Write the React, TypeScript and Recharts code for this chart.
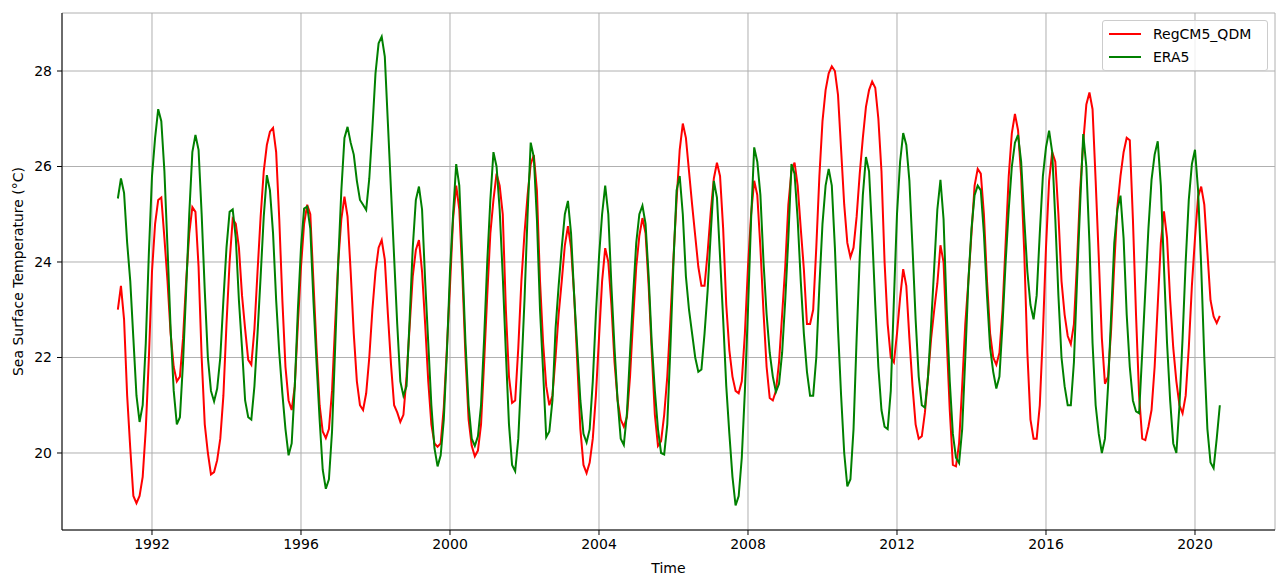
import { LineChart, Line, XAxis, YAxis, CartesianGrid, Legend } from 'recharts';

const FONT = '"DejaVu Sans", sans-serif';

const startYear = 1991;
const xTicks = [1992, 1996, 2000, 2004, 2008, 2012, 2016, 2020];
const yTicks = [20, 22, 24, 26, 28];
const seriesNames = ['RegCM5_QDM', 'ERA5'];

// monthly SST, Jan 1991 .. Aug 2020
const regcm5Qdm = [
  23.0, 23.5, 22.8, 21.2, 20.1, 19.1, 18.95, 19.1, 19.5, 20.5, 22.0, 23.8, // 1991
  24.8, 25.3, 25.35, 24.5, 23.6, 22.5, 21.8, 21.5, 21.6, 22.4, 23.6, 24.6, // 1992
  25.15, 25.05, 23.9, 22.0, 20.6, 20.0, 19.55, 19.6, 19.85, 20.3, 21.2, 22.7, // 1993
  24.0, 24.9, 24.8, 24.3, 23.3, 22.6, 21.95, 21.85, 22.6, 23.8, 24.95, 25.9, // 1994
  26.45, 26.73, 26.81, 26.3, 24.9, 23.2, 21.8, 21.1, 20.9, 21.4, 22.7, 23.9, // 1995
  24.8, 25.2, 25.0, 23.6, 22.2, 21.0, 20.45, 20.31, 20.5, 21.3, 22.7, 24.0, // 1996
  24.9, 25.37, 24.95, 23.8, 22.5, 21.5, 21.0, 20.9, 21.25, 22.0, 23.0, 23.8, // 1997
  24.3, 24.46, 24.05, 22.9, 21.85, 21.0, 20.85, 20.65, 20.8, 21.6, 22.65, 23.7, // 1998
  24.25, 24.46, 23.8, 22.7, 21.5, 20.6, 20.2, 20.13, 20.2, 20.95, 22.2, 23.5, // 1999
  24.9, 25.6, 25.1, 23.7, 22.0, 20.7, 20.15, 19.93, 20.05, 20.6, 21.9, 23.3, // 2000
  24.6, 25.3, 25.85, 25.6, 25.0, 23.0, 21.6, 21.05, 21.1, 22.2, 23.6, 24.6, // 2001
  25.4, 26.05, 26.24, 25.5, 23.6, 22.3, 21.4, 21.0, 21.2, 22.0, 22.9, 23.6, // 2002
  24.35, 24.75, 24.3, 23.3, 21.9, 20.5, 19.75, 19.58, 19.8, 20.3, 21.2, 22.4, // 2003
  23.6, 24.29, 24.0, 23.1, 21.9, 21.1, 20.7, 20.55, 20.75, 21.6, 22.8, 23.9, // 2004
  24.55, 24.92, 24.6, 23.5, 22.1, 20.8, 20.15, 20.25, 20.8, 21.6, 22.8, 24.1, // 2005
  25.3, 26.35, 26.9, 26.6, 25.9, 25.2, 24.55, 23.9, 23.5, 23.5, 24.2, 25.05, // 2006
  25.75, 26.08, 25.8, 24.7, 23.1, 22.15, 21.6, 21.3, 21.25, 21.5, 22.5, 23.9, // 2007
  25.0, 25.7, 25.4, 24.3, 22.95, 21.8, 21.15, 21.1, 21.3, 21.9, 22.9, 23.9, // 2008
  25.2, 25.9, 26.08, 25.6, 24.7, 23.85, 22.7, 22.7, 23.0, 24.3, 25.8, 26.95, // 2009
  27.6, 27.95, 28.1, 28.0, 27.5, 26.35, 25.2, 24.4, 24.1, 24.3, 24.95, 25.85, // 2010
  26.6, 27.25, 27.6, 27.78, 27.65, 27.0, 25.9, 24.0, 22.7, 22.0, 21.9, 22.5, // 2011
  23.25, 23.85, 23.5, 22.4, 21.4, 20.6, 20.3, 20.35, 20.85, 21.6, 22.4, 23.0, // 2012
  23.55, 24.35, 24.0, 22.4, 20.9, 19.75, 19.72, 20.2, 21.4, 22.7, 23.6, 24.6, // 2013
  25.6, 25.95, 25.85, 25.0, 23.6, 22.5, 22.0, 21.85, 22.1, 23.0, 24.4, 25.8, // 2014
  26.7, 27.1, 26.76, 25.8, 24.2, 22.1, 20.7, 20.3, 20.3, 21.0, 22.5, 24.3, // 2015
  25.7, 26.3, 26.1, 25.0, 23.6, 22.9, 22.45, 22.28, 22.7, 24.0, 25.5, 26.5, // 2016
  27.3, 27.55, 27.2, 25.7, 24.1, 22.4, 21.45, 21.6, 22.6, 23.95, 25.15, 25.8, // 2017
  26.3, 26.6, 26.55, 24.9, 22.9, 21.2, 20.3, 20.27, 20.55, 20.9, 21.8, 23.1, // 2018
  24.4, 25.06, 24.5, 23.2, 22.2, 21.5, 21.0, 20.83, 21.2, 22.2, 23.5, 24.5, // 2019
  25.37, 25.58, 25.2, 24.2, 23.2, 22.86, 22.72, 22.87, // 2020
];

const era5 = [
  25.33, 25.75, 25.45, 24.4, 23.6, 22.4, 21.2, 20.65, 21.0, 22.3, 24.2, 25.8, // 1991
  26.6, 27.2, 26.95, 25.9, 24.3, 22.6, 21.3, 20.6, 20.75, 21.9, 23.4, 25.0, // 1992
  26.3, 26.66, 26.35, 25.0, 23.4, 22.0, 21.3, 21.08, 21.35, 22.0, 23.2, 24.3, // 1993
  25.05, 25.1, 24.5, 23.2, 22.2, 21.1, 20.75, 20.7, 21.4, 22.5, 23.7, 24.95, // 1994
  25.82, 25.5, 24.6, 23.2, 22.1, 21.25, 20.5, 19.95, 20.2, 21.4, 23.0, 24.3, // 1995
  25.12, 25.16, 24.7, 23.2, 21.9, 20.7, 19.65, 19.25, 19.45, 20.45, 22.2, 24.0, // 1996
  25.5, 26.6, 26.83, 26.5, 26.25, 25.7, 25.3, 25.2, 25.09, 25.75, 26.8, 27.95, // 1997
  28.58, 28.72, 28.3, 26.9, 25.5, 24.1, 22.7, 21.5, 21.2, 21.4, 22.8, 24.3, // 1998
  25.3, 25.58, 25.1, 23.6, 22.3, 21.0, 20.1, 19.72, 19.95, 20.7, 22.1, 23.8, // 1999
  25.0, 26.05, 25.6, 24.0, 22.3, 21.0, 20.3, 20.15, 20.35, 21.0, 22.4, 24.0, // 2000
  25.3, 26.3, 26.0, 25.1, 23.7, 22.1, 20.6, 19.75, 19.62, 20.3, 21.7, 23.2, // 2001
  25.0, 26.5, 26.2, 24.9, 23.0, 21.7, 20.33, 20.45, 21.1, 22.6, 23.5, 24.3, // 2002
  25.0, 25.28, 24.6, 23.3, 22.2, 21.1, 20.4, 20.22, 20.5, 21.5, 22.9, 24.1, // 2003
  25.0, 25.6, 25.0, 23.5, 22.2, 21.1, 20.3, 20.17, 20.83, 22.1, 23.3, 24.4, // 2004
  25.0, 25.18, 24.8, 23.7, 22.3, 21.3, 20.5, 20.0, 19.97, 20.6, 22.2, 24.0, // 2005
  25.5, 25.8, 25.0, 23.7, 23.0, 22.5, 22.0, 21.7, 21.75, 22.5, 23.4, 24.6, // 2006
  25.7, 25.35, 24.1, 22.8, 21.4, 20.4, 19.5, 18.9, 19.1, 19.9, 21.3, 23.0, // 2007
  24.9, 26.4, 26.1, 25.4, 24.0, 22.9, 22.1, 21.6, 21.28, 21.45, 22.1, 23.2, // 2008
  24.5, 26.05, 25.85, 24.9, 23.6, 22.5, 21.7, 21.2, 21.2, 22.0, 23.5, 24.8, // 2009
  25.6, 25.95, 25.6, 24.3, 22.6, 21.2, 20.0, 19.3, 19.45, 20.5, 22.4, 24.1, // 2010
  25.4, 26.2, 25.9, 24.6, 23.1, 21.8, 20.9, 20.55, 20.5, 21.3, 23.2, 25.0, // 2011
  26.1, 26.7, 26.45, 25.7, 24.3, 22.8, 21.6, 21.0, 20.95, 21.6, 22.7, 23.9, // 2012
  25.1, 25.72, 24.9, 23.0, 21.5, 20.4, 19.9, 19.79, 20.5, 22.0, 23.6, 24.7, // 2013
  25.4, 25.6, 25.5, 24.6, 23.3, 22.2, 21.7, 21.35, 21.6, 22.7, 24.0, 25.1, // 2014
  26.0, 26.5, 26.66, 26.1, 24.9, 23.8, 23.1, 22.8, 23.3, 24.6, 25.8, 26.4, // 2015
  26.75, 26.3, 24.9, 23.3, 22.0, 21.4, 21.0, 21.0, 21.9, 23.6, 25.2, 26.68, // 2016
  26.0, 24.4, 22.3, 21.0, 20.4, 20.0, 20.3, 21.4, 22.9, 24.4, 25.1, 25.39, // 2017
  24.5, 22.9, 21.8, 21.1, 20.87, 20.83, 22.1, 23.4, 24.7, 25.72, 26.25, 26.53, // 2018
  25.6, 23.9, 22.3, 21.1, 20.2, 20.0, 21.0, 22.4, 24.0, 25.3, 26.05, 26.35, // 2019
  25.5, 23.9, 22.0, 20.5, 19.8, 19.68, 20.3, 21.0, // 2020
];

// month-end dates as decimal years
const chartData = regcm5Qdm.map((v, i) => ({
  time: startYear + (i + 1) / 12,
  regcm: v,
  era: era5[i],
}));

function YTitle(props: any) {
  const vb = props.viewBox || { x: 0, y: 13, width: 62, height: 517 };
  const cx = vb.x + 18;
  const cy = vb.y + vb.height / 2;
  return (
    <text
      x={cx}
      y={cy}
      transform={`rotate(-90 ${cx} ${cy})`}
      textAnchor="middle"
      dominantBaseline="central"
      fill="#000"
      fontSize={14}
      fontFamily={FONT}
    >
      Sea Surface Temperature (°C)
    </text>
  );
}

function LegendBox(props: any) {
  // keep plotting order, recharts sorts the payload by name
  const payload = [...(props.payload || [])].sort(
    (a: any, b: any) => seriesNames.indexOf(a.value) - seriesNames.indexOf(b.value)
  );
  return (
    <div
      style={{
        width: '100%',
        height: '100%',
        boxSizing: 'border-box',
        border: '1px solid #cccccc',
        borderRadius: 3,
        background: 'rgba(255,255,255,0.8)',
        padding: '1px 0 0 6px',
        fontFamily: FONT,
        fontSize: 14,
        color: '#000',
      }}
    >
      {payload.map((p: any) => (
        <div key={p.value} style={{ display: 'flex', alignItems: 'center', height: 23 }}>
          <span style={{ display: 'inline-block', width: 32, height: 2, background: p.color, marginRight: 12 }} />
          <span>{p.value}</span>
        </div>
      ))}
    </div>
  );
}

export default function App() {
  const axisTick = { fill: '#000', fontSize: 14, fontFamily: FONT };
  return (
    <div style={{ position: 'absolute', left: 0, top: 0, width: 1277, height: 576, background: '#fff' }}>
      <LineChart width={1277} height={576} data={chartData} margin={{ top: 13, right: 2, bottom: 0, left: 0 }}>
        <CartesianGrid stroke="#b0b0b0" strokeWidth={1} />
        <XAxis
          dataKey="time"
          type="number"
          domain={[1989.584, 2022.148]}
          ticks={xTicks}
          interval={0}
          allowDataOverflow
          height={46}
          tickSize={5}
          tickMargin={4}
          tick={axisTick}
          stroke="#000"
          label={{ value: 'Time', position: 'insideBottom', offset: 3, fill: '#000', fontSize: 14, fontFamily: FONT }}
        />
        <XAxis
          xAxisId="top"
          orientation="top"
          type="number"
          domain={[1989.584, 2022.148]}
          height={0}
          tick={false}
          tickLine={false}
          stroke="#000"
        />
        <YAxis
          type="number"
          domain={[18.387, 29.215]}
          ticks={yTicks}
          interval={0}
          allowDataOverflow
          width={62}
          tickSize={5}
          tickMargin={5}
          tick={axisTick}
          stroke="#000"
          label={<YTitle />}
        />
        <YAxis yAxisId="right" orientation="right" width={0} tick={false} tickLine={false} stroke="#000" />
        <Legend
          layout="horizontal"
          verticalAlign="middle"
          align="center"
          content={<LegendBox />}
          wrapperStyle={{ left: 1102, top: 20, width: 166, height: 51 }}
        />
        <Line
          name="RegCM5_QDM"
          dataKey="regcm"
          stroke="#ff0000"
          strokeWidth={2}
          dot={false}
          activeDot={false}
          isAnimationActive={false}
        />
        <Line
          name="ERA5"
          dataKey="era"
          stroke="#008000"
          strokeWidth={2}
          dot={false}
          activeDot={false}
          isAnimationActive={false}
        />
      </LineChart>
    </div>
  );
}
